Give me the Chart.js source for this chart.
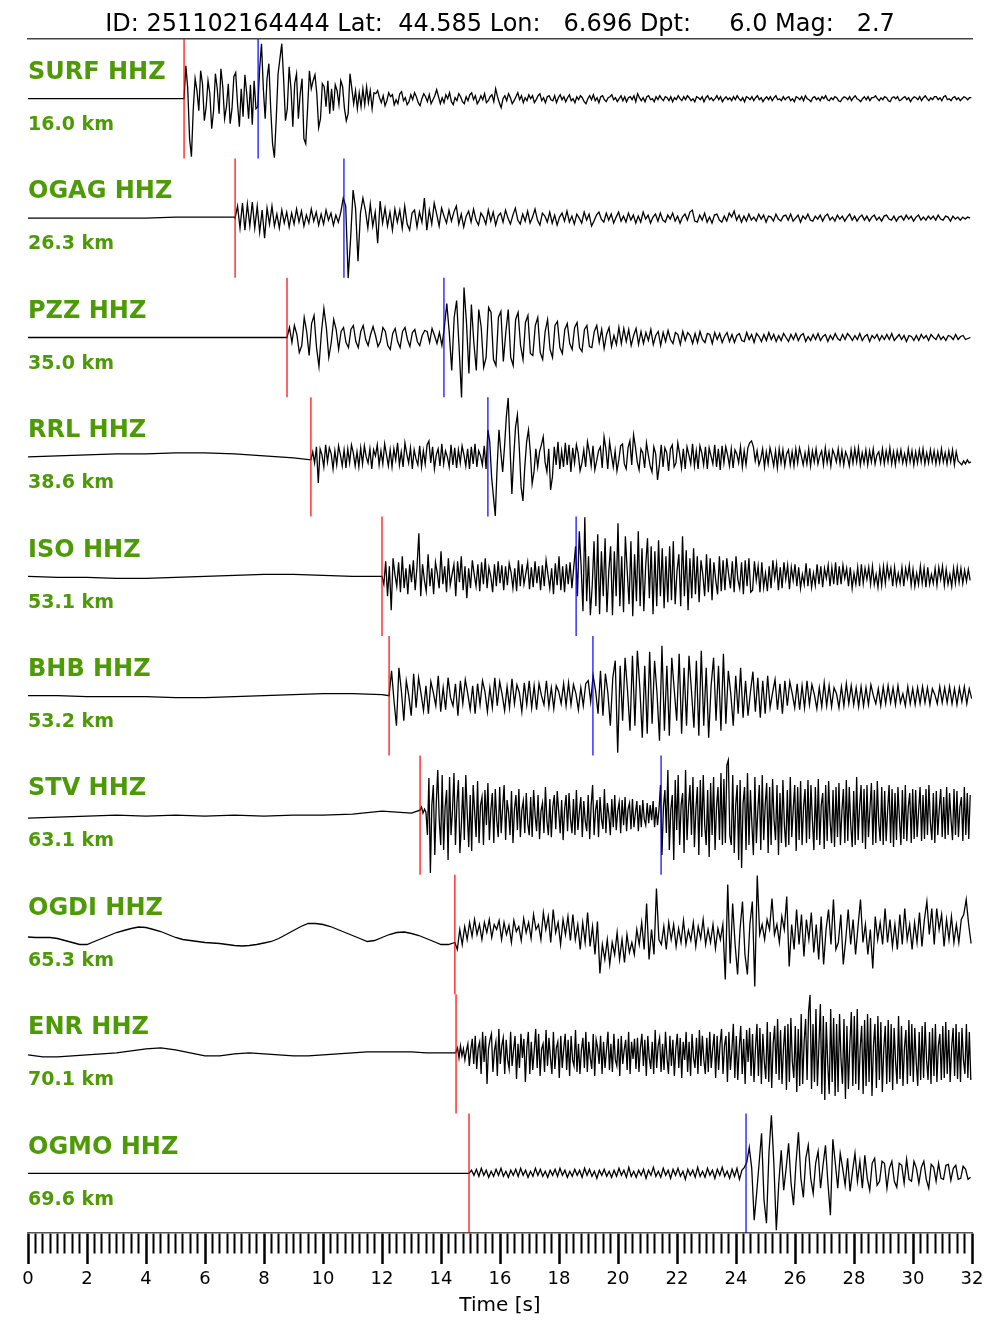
<!DOCTYPE html>
<html>
<head>
<meta charset="utf-8">
<title>Record section</title>
<script src="https://cdn.jsdelivr.net/npm/chart.js@4.4.1/dist/chart.umd.min.js"></script>
<style>
  html, body { margin: 0; padding: 0; background: #ffffff; }
  canvas { display: block; }
</style>
</head>
<body>
<canvas id="section" width="1000" height="1333"></canvas>
<script>
// Event header
const eventTitle = 'ID: 251102164444 Lat:  44.585 Lon:   6.696 Dpt:     6.0 Mag:   2.7';

// Stations, ordered by distance
const stations  = ['SURF HHZ', 'OGAG HHZ', 'PZZ HHZ', 'RRL HHZ', 'ISO HHZ', 'BHB HHZ', 'STV HHZ', 'OGDI HHZ', 'ENR HHZ', 'OGMO HHZ'];
const distances = ['16.0 km', '26.3 km', '35.0 km', '38.6 km', '53.1 km', '53.2 km', '63.1 km', '65.3 km', '70.1 km', '69.6 km'];

// Phase picks [s]
const pPicks = [5.29, 7.02, 8.78, 9.59, 12.00, 12.24, 13.29, 14.47, 14.51, 14.95];
const sPicks = [7.80, 10.71, 14.10, 15.59, 18.58, 19.15, 21.46, null, null, 24.34];

// Sampling rates [samples/s]: pre-event noise (from 0 s) and waveform (from the P pick)
const preRate = [1, 1, 1, 1, 1, 1, 1, 4, 2, 1];
const sigRate = [16, 12, 12, 16, 16, 12, 20, 12, 20, 12];

// Normalised amplitudes (counts; one trace band spans 119.4 counts)
const surfPre = [0, 0, 0, 0, 0, 0];
const surfWave = [
  0, 33, 10, -40, -58, -10, 20, 8, -12, 28, 15, -22, -8, 18, 5, -30,
  -12, 25, 10, -15, 30, 12, -20, -8, 15, -25, -10, 22, 26, -5, -28, 10,
  -18, 24, 5, -20, 14, -26, 18, -10,
  -8, 30, 55, 10, -20, 20, 35, -10, -45, -59, -20, 25, 40, 55, 20, -22,
  -10, 32, 10, -28, 15, 25, -20, 5, 20, -40, -45, -10, 28, 10, 18, 24,
  5, -29, -20, 15, 12, -8, 18, -15, 10, -12, 14, 8, -6, 18, 12, -10,
  -22, -15, 25, 10, -5, 8, -10, 6, -8, 10, -6, 12, -4, 8, -10, 6,
  5, 8, 1, -4, 3, -7, -2, 6, 2, 4, -6, -1, -5, 5, 7, -2,
  1, -6, -3, 4, -1, 6, 2, -4, -7, 0, 5, 2, -3, 4, -5, -1,
  3, 9, 2, -5, 1, -4, 4, 0, 6, -3, -6, 1, -2, 5, 2, -3,
  -5, 2, -2, 4, 6, -1, 3, -5, -2, 3, -1, 5, -4, -2, 2, 4,
  -3, 10, 2, -4, -9, 0, 3, -2, 5, 1, -5, -2, 2, 6, -1, 3,
  -4, 1, -2, 4, 0, 3, -4, -1, 3, 5, -2, 1, -4, 2, 3, -1,
  -2, 3, -4, 1, 4, -1, 2, -3, 1, 4, -2, 0, -4, 2, -1, 3,
  1, -3, -5, 0, 3, -1, 4, -2, 1, -4, 2, 3, -1, -3, 1, 2,
  4, -1, 1, -3, 0, 3, -2, 2, -3, 1, 2, -1, 3, -3, 5, 1,
  -2, 1, -3, 2, 3, -1, 0, -3, 2, -1, 3, 0, -2, 2, 1, -2,
  2, -3, 1, -1, 3, 0, -2, 2, -1, 3, 1, -2, 0, -3, 2, 1,
  -1, 2, -3, 1, 3, -1, 1, -2, 0, 3, -1, 2, -3, 0, 2, -1,
  1, -2, 2, -1, 3, 0, -2, 1, -3, 2, 1, -1, 2, -2, 1, 3,
  -1, 1, -3, 0, 2, -1, 2, -2, 1, 3, -1, 0, -2, 2, -1, 1,
  2, -2, 0, -3, 2, 1, -1, 2, -2, 3, 0, -1, -3, 1, 2, -1,
  1, -2, 2, 0, 3, -1, -2, 1, -1, 2, 1, -2, -3, 0, 2, 1,
  -1, 2, -2, 1, 3, 0, -1, -3, 0, 2, -1, 2, -2, 1, 1, 3,
  0, -2, 1, -1, 2, 1, -2, -3, 1, 2, 0, 2, -2, -1, 1, 2,
  -1, 1, -3, 0, 2, 1, -1, 2, -2, 1, 3, 0, -2, 1, -1, 2,
  2, -1, 1, -2, 2, 3, -1, 0, -2, 1, 2, -1, 1, -2, 0, 2,
  1, -1, 1, 1
];

const ogagPre = [0, 0, 0, 0, 0, 1, 1, 1];
const ogagWave = [
  0, 12, -10, 15, -12, 14, -8, 16, -10, 12, -14, 8,
  -20, 10, -6, 12, -8, 4, -10, 8, -5, 6, -9, 5,
  -6, 9, -4, 7, -8, 3, -5, 9, -3, 6, -7, 4,
  -6, 8, -2, 5, -7, 3, -4, 6,
  20, 12, -60, -20, 28, 10, -43, 5, 20, 8, -10, 14,
  -8, 6, -25, 17, -5, 10, -8, 6, -12, 9, -4, 8,
  -10, 12, -6, -12, 5, 8, -9, 6, -4, 20, -12, 8,
  -6, 15, 4, -8, 10, 2, -5, 8, -3, 6, 12, -6,
  4, -9, 2, 7, -4, 9, -2, -7, 5, 1, -6, 8,
  -3, 6, -7, 2, 5, -4, 8, 0, -6, 3, 10, -2,
  -6, 4, -3, 7, -5, 1, 9, -2, -7, 5, 2, -4,
  6, -5, 3, -7, 1, 5, -3, 7, -4, 2, -6, 4,
  0, -5, 6, -2, 4, -8, -3, 3, 6, -1, -4, 5,
  -2, 4, -5, 1, 6, -3, 2, -4, 5, -2, 3, -5,
  2, -4, 6, -1, 3, -5, 1, 4, -3, 5, -2, -4,
  3, -1, 5, -3, 2, -5, 1, 4, -2, 6, 8, -3,
  -4, 3, -2, 5, -4, 1, -5, 3, 4, -2, -4, 2,
  -3, 5, 1, 7, -2, 3, -4, 2, -3, 4, -2, 1,
  -3, 4, -1, 3, -4, 2, 1, -3, 4, -1, -3, 2,
  3, -2, 4, -3, 0, 3, -4, 2, -1, 4, -2, -3,
  2, -1, 3, -3, 2, 4, -2, 1, -3, 3, -1, 2,
  -3, 1, 4, -2, 2, -3, 1, 3, -2, 2, -3, 1,
  3, -2, 1, -3, 2, 3, -1, -2, 2, -3, 1, 2,
  -2, 3, -1, 2, -3, 1, 3, -2, 1, -2, 2, -1,
  2, -2, 3, -1, -2, 2, 1, -3, 2, -1, 1, -2,
  1, -1, 1, 0
];

const pzzPre = [0, 0, 0, 0, 0, 0, 0, 0, 0];
const pzzWave = [
  0, 10, -5, 12, 3, -15, -8, 20, 6, -18, 14, 22,
  -10, -29, 5, 29, 10, -20, -5, 18, 8, -12, 6, 10,
  -5, -10, 8, 12, -4, -10, 6, 12, -2, -8, 3, 11,
  2, -9, -4, 10, 6, -8, -12, 4, 9, -4, -10, 6,
  10, -2, -9, 5, 8, -4, -8, 2, 7, 6, -5, 9,
  2, -6, 5, -8,
  10, 34, 5, -33, 20, 37, -10, -60, 50, 15, -36, 33,
  -5, -33, 28, 10, -30, -20, 30, 25, -22, -28, 20, 26,
  -24, 5, 28, -20, -28, 18, 25, -8, -22, 15, 22, -16,
  -18, 12, 20, -15, -22, 6, 18, -12, -20, 12, 16, -10,
  -16, 8, 14, -6, -12, 10, 15, -10, -14, 8, 12, -9,
  -10, 6, 12, -5, 8, -11, 3, 10, -9, 2, -7, 10,
  -6, 9, -4, 8, -8, 2, 9, -7, 6, -6, 5, -3,
  8, -7, 2, 6, -8, 5, -4, 7, -2, -6, 5, 3,
  -7, 6, -3, 5, 2, -6, 4, -5, 6, -2, -5, 4,
  3, -6, 5, -2, 4, -5, 1, 5, -4, 3, -5, 2,
  4, -3, -4, 5, -2, 3, -5, 4, 1, -4, 3, -3,
  5, -2, 3, -4, 2, -3, 4, 0, -4, 3, -2, 4,
  -3, 2, 4, -4, 1, -3, 3, -2, 4, -3, 1, 3,
  -4, 2, -2, 4, -1, -3, 3, -2, 4, 1, -3, 2,
  -2, 4, -3, 1, 3, -4, 2, -1, 3, -3, 2, -2,
  3, -2, 4, -3, 0, 3, -2, 2, -4, 2, 1, -3,
  2, -3, 3, -1, 2, -3, 3, 0, -2, 3, -2, 1,
  -3, 2, 1, -2, 3, -2, 1, 2, -2, -1, 0
];

const rrlPre = [0, 1, 2, 3, 3, 4, 4, 3, 1, -1];
const rrlWave = [
  -3, 5, -6, 10, -26, 8, 2, -10, 12, -5, 9, 3, -12, 6, -8, 11,
  2, -9, 7, -11, 8, -6, 12, 4, -9, 5, -10, 9, -7, 11, 0, -6,
  8, -12, 7, 1, 12, -8, 6, -7, 13, 2, -9, 7, -10, 8, -3, 14,
  -8, 5, -10, 14, 3, -6, 9, -12, 7, -2, -8, 11, -10, 6, -7, 12,
  16, -6, 10, -12, 2, 8, -9, 13, -7, 6, 0, -10, 12, -8, 9, -11,
  7, -6, 11, 2, -9, 8, -12, 10, -7, 13, -10, 6, 1, -8, 11, -12,
  27, 15, -20, -40, -59, -10, 27, 5, -15, 10, 40, 59, 10, -37, 0, 30,
  42, 10, -30, -44, -10, 15, 27, 5, -27, -15, 8, -10, 5, 12, 20, -5,
  -15, 8, -33, -20, 10, -8, 15, -12, 6, -10, 14, -8, 12, -15, 9, -6,
  12, 3, -14, -6, 7, -10, 15, 5, -9, 11, -13, -4, 6, 10, -11, 20,
  8, -12, 15, 2, -10, 6, -14, -3, 11, 13, -7, -12, 9, 16, -8, 22,
  10, -5, -13, 8, 4, -11, 14, 2, -9, -15, 10, 3, -23, -8, 12, -10,
  9, 4, -14, 8, 12, -10, -6, 14, 3, -11, 8, -12, 10, 2, -7, 13,
  -9, 6, -12, 11, 4, -8, 10, -12, 9, 1, -7, 12, -10, 8, -13, 11,
  -6, 10, 2, -9, 8, -11, 7, 3, -6, 10, -10, 6, -8, 9, 14, 16,
  10, -4, 6, -8, -2, 8, -10, 5, -7, 9, 1, -9, 6, -11, 8, -6,
  7, -9, 3, 7, -8, 5, -9, 8, -6, 9, 1, -8, 4, -7, 8, -9,
  6, -5, 8, -7, 1, 6, -8, 9, -6, 5, -9, 7, 2, -5, 8, -7,
  6, -8, 5, 0, -9, 7, -6, 8, -5, 9, -8, 4, -6, 7, -8, 6,
  -5, 8, -7, 2, 5, -6, 8, -7, 6, -5, 9, -7, 5, -8, 6, -4,
  7, -6, 3, -7, 8, -5, 6, -8, 5, -6, 7, -5, 8, -7, 4, -6,
  7, -5, 6, -7, 5, -6, 8, -5, 4, -7, 6, -5, 7, -8, 5, -4,
  -6, -8, -4, -7, -3, -6, -5
];

const isoPre = [0, -1, -1, -2, -2, -1, 0, 1, 2, 2, 1, 0];
const isoWave = [
  0, -8, 15, -20, 10, -34, 18, 2, -10, 14, -16, 20, -12, 8, -18, 12,
  -6, 16, -14, 10, 43, -20, 12, -4, -15, 22, -10, 8, -18, 14, 3, -12,
  25, -8, 10, -16, 18, -9, 2, 12, -20, 15, -6, 20, -14, 10, -22, 8,
  -12, 16, 2, -10, 12, -15, 14, -8, 18, -12, 9, 0, -16, 12, -10, 15,
  -7, 11, -14, 10, -9, 13, 4, -12, 8, -15, 16, -10, 12, -8, 3, 14,
  -13, 9, -11, 15, -7, 10, -14, 11, -10, 16, 2, -12, 8, -18, 13, -9,
  20, -14, 10, -16, 12, -8, 14, -12, 9,
  30, -20, 45, 10, -35, 59, -25, 20, -39, -10, 35, -30, 42, -38, 25, -20,
  38, -36, 5, 30, -39, 25, -20, 53, -30, 20, -36, 40, 5, -28, 35, -40,
  22, -25, 45, -30, 28, -35, 10, 38, -22, 30, -38, 25, -30, 36, -20, 28,
  -32, 20, -26, 30, -24, 35, -28, 5, 22, -30, 40, -20, 26, -34, 18, -22,
  28, -18, 20, -26, 16, 2, -20, 22, -16, 18, -24, 14, -4, -18, 20, -15,
  16, -14, 18, 2, -12, 15, -16, 20, -3, -12, 14, -18, 16, -10, 18, -16,
  -14, 15, -4, 10, -16, 14, -11, 3, -15, 10, -12, 16, -2, 12, -14, 9,
  -12, 14, -3, 11, -13, 9, -4, 12, -10, 9, -12, 2, -8, 13, -10, 8,
  -11, 3, -9, 12, -8, 10, -11, 8, -2, 11, -10, 9, -8, 14, -9, 10,
  -8, 11, -2, 8, -10, 9, -12, 3, -8, 9, -10, 12, -7, 8, -3, 9,
  -8, 10, -8, 2, -11, 8, -9, 10, -7, 11, -2, 8, -10, 9, -8, 3,
  -7, 9, -10, 8, -2, 11, -9, 7, -10, 3, -8, 10, -7, 8, -11, 9,
  -8, 2, -7, 8, -9, 9, -3, 10, -9, 7, -8, 2, -10, 8, -7, 9,
  -6, 8, -7, 6, -5, 7, -4
];

const bhbPre = [0, 0, -1, -1, -1, -2, -2, -1, 0, 1, 2, 2, 1];
const bhbWave = [
  0, 25, -5, -30, 28, 5, -25, 15, 0, -20, 22, -12,
  18, 2, -15, 10, -18, 14, 3, -10, 20, -16, 8, -14,
  18, -2, -10, 12, -20, 15, -8, 16, 2, -14, 10, -18,
  12, -9, 15, 4, -16, 8, -12, 18, -10, 14, 1, -15,
  9, -12, 17, -8, 11, 3, -16, 13, -9, 15, -12, 10,
  -14, 12, 0, -9, 15, -11, 8, -13, 10, 4, -8, 12,
  -10, 13, -9, 11, 2, -14, 8, -10, 12, 15, -6,
  20, 5, -18, 25, -20, 22, 3, -30, 18, 35, -57, 30,
  -25, 38, 5, -35, 40, -30, 45, 8, -42, 30, -38, 44,
  -28, 35, 2, -45, 50, -35, 30, -40, 38, 6, -25, 42,
  -38, 28, -30, 40, 5, -32, 35, -40, 45, -30, 28, -42,
  10, 38, -25, 30, -35, 42, -28, 25, 2, -30, 20, -18,
  28, -22, 15, -20, 4, 24, -16, 18, -22, 15, -18, 20,
  -12, 3, 16, -14, 12, -18, 15, -10, 14, 2, -12, 12,
  -14, 10, -12, 15, -9, 11, 1, -13, 8, -11, 13, -10,
  10, -11, 8, 2, -12, 9, -10, 12, -8, 10, -9, 8,
  -11, 9, -10, 8, -9, 11, 0, -8, 7, -10, 9, -8,
  10, -7, 8, -9, 10, -7, 2, -10, 9, -8, 7, -9,
  8, -8, 9, -7, 8, -9, 7, 1, -8, 9, -7, 8,
  -7, 9, -8, 7, -9, 8, -6, 9, -8, 7, -3
];

const stvPre = [-3, -2, -1, 0, -1, 0, -1, 0, -1, 0, 0, 1, 4, 2];
const stvWave = [
  5, 8, 2, 6, 3, -20, 37, -58, 10, 30, -40, 12, 45, -5, -30, 40, -35, 8, 25, -45,
  38, -20, 5, 42, -30, 12, 35, -38, -10, 28, -25, 40, 2, -32, 20, -36, 30, 4, -22, 34,
  -28, 10, 18, -30, 25, -10, 32, -25, 5, 22, -28, 26, -5, -22, 28, -18, 8, 30, -25, 15,
  3, -20, 24, -28, 6, 20, -15, 26, -22, 5, 14, -18, 22, -8, -20, 18, -22, 25, 0, -16,
  20, -24, 4, 12, -18, 28, -6, -20, 16, -22, 8, 20, -14, 24, 4, -18, 15, -25, 6, 20,
  -16, 22, -4, -18, 16, -20, 25, -15, 3, 18, -22, 14, -6, -16, 20, -24, 10, 30, -20, 5,
  15, -22, 18, -4, -14, 26, -18, 12, 0, -20, 16, -12, 20, -15, 4, 13, -18, 15, -10, 18,
  -16, 6, 12, -14, 16, -12, 2, 14, -16, 10, -12, 15, -4, -10, 12, -8, 10, -5, 14, -12,
  8, -10, 6,
  30, -40, 8, 25, -18, 45, -35, 5, 20, -45, 35, -15, 40, -30, 10, 22, -38, 45, -25, 8,
  30, -20, 38, -32, 6, 28, -40, 35, -22, 40, -10, -30, 25, -42, 32, -20, 38, -35, 8, 28,
  -25, 42, -30, 36, -28, 50, 55, -20, -30, 40, -38, 10, 30, -45, 35, -53, 12, 28, -35, 42,
  -30, 25, -10, -40, 38, -28, 5, 30, -35, 40, -25, 10, 32, -38, 28, -30, 36, -5, -25, 30,
  -40, 22, -28, 35, -10, -32, 25, -30, 38, -22, 6, 30, -36, 28, -25, 34, -30, 8, 26, -28,
  35, -24, 30, -5, -35, 28, -25, 36, -30, 10, 22, -34, 30, -26, 34, -6, -28, 25, -32, 28,
  -22, 32, -30, 4, 26, -28, 35, -26, 28, -10, -32, 24, -30, 38, -25, 8, 30, -28, 26, -34,
  30, -22, 6, 32, -30, 25, -28, 34, -8, -26, 28, -30, 24, -26, 5, 30, -28, 26, -32, 22,
  -25, 28, -4, -30, 25, -24, 30, -26, 8, 22, -28, 26, -24, 25, -22, 4, 28, -26, 20, -24,
  26, -20, 30, -8, -25, 22, -28, 24, -20, 6, 26, -22, 18, -24, 28, -20, 22, -5, -25, 26,
  -20, 24, -22, 8, 18, -26, 28, -20, 22, -24, 20
];

const ogdiPre = [
  -2.5, -3, -3, -3,
  -4, -6, -8, -10,
  -10, -7, -4, -1,
  2, 4, 6, 7.5,
  7, 5, 3, 0,
  -3, -5, -6, -7,
  -8, -8.5, -9, -10,
  -11, -11.5, -11, -10,
  -8.5, -7, -4, 0,
  4, 8, 11, 11,
  10, 8, 5, 2,
  -1, -4, -7, -6,
  -3, 0, 2, 2.5,
  1, -1, -4, -7,
  -10, -10
];
const ogdiWave = [
  -8, -15, 5, -10, 8, -5, 12, -2, 15, 0, 10, -5,
  12, 2, 15, -3, 10, 5, 14, -5, 12, 0, 9, -8,
  14, 3, 8, -6, 16, 2, 12, -4, 20, 5, 10, -5,
  22, 5, 18, -8, 25, 2, 12, -10, 15, 0, 18, -6,
  20, -5, 10, -15, 12, -8, 22, -12, 8, -20, 13, -39,
  -10, -25, -5, -30, -8, -20, 2, -25, -5, -28, 0, -18,
  -8, -20, 5, -10, 12, -15, 31, -25, 5, -20, 46, -5,
  -10, 8, -15, 12, -5, 10, -12, 6, -8, 14, -10, 4,
  -6, 12, -12, 8, -4, 15, -10, 5, -8, 10, -14, 6,
  -5, 10, -45, 50, -29, 31, -10, -40, 5, 33, -20, -40,
  10, 33, -52, 59, 0, 10, -5, 15, 5, 36, 0, 10,
  -8, 18, 5, 38, -32, 10, -15, 25, -10, 20, -22, 15,
  -5, 22, -18, 10, -25, 18, -30, 5, 25, -10, 35, -15,
  -8, 20, -30, -5, 25, -10, 15, -20, 8, 35, -8, 10,
  -20, 5, -34, 18, -5, 12, -10, 26, -8, 15, -12, 10,
  -15, 20, -10, 26, -5, 10, -15, 12, -8, 22, -12, 15,
  33, 0, 26, -10, 26, 5, 20, -12, 15, -5, 18, -8,
  10, -8, 15, 20, 35, 10, -9
];

const enrPre = [-1, -3, -3, -2, -1, 0, 1, 3, 5, 6, 4, 1, -2, -2, 0, 1, 0, -1, -2, -2, -1, 0, 1, 2, 2, 2, 2, 1, 1, 1];
const enrWave = [
  2, 6, -4, 8, -2, 5, -6, 3, 10, -12, 4, 15, -10, 18, -15, 6, 12, -20, 22, -8,
  18, -30, 5, 14, 20, -18, 3, 12, -22, 25, -10, 8, 16, -20, 14, -6, -15, 22, -12, 4,
  18, -25, 10, -14, 20, -4, 15, -28, 6, 22, -20, 12, -16, 3, 25, -14, 20, -22, 5, 10,
  -18, 24, -12, 16, -4, -20, 22, -15, 6, 12, -24, 18, -14, 5, 20, -16, 14, -22, 18, -6,
  -12, 24, -18, 10, -20, 4, 16, -14, 22, -18, 12, -4, -15, 20, -22, 14, 6, -10, 18, -20,
  12, -14, 4, 22, -16, 10, -18, 20, -6, -12, 15, -22, 18, -10, 4, 14, -16, 22, -20, 12,
  -5, 15, -15, 16, -18, 6, 20, -12, 14, -22, 18, -4, -15, 12, -20, 24, -14, 8, 16, -18,
  10, -16, 22, -4, -20, 18, -12, 14, -22, 5, 20, -14, 16, -24, 12, -6, 22, -18, 12, -22,
  20, -4, -14, 16, -20, 24, -12, 18, -6, -20, 16, -18, 22, -14, 5, 20, -24, 18, -16, 10,
  25, -20, 8, 18, -28, 22, -16, 4, 30, -24, 18, -26, 6, 28, -20, 15, -30, 24, -8, 26,
  -22, 20, -28, 5, 30, -22, 26, -30, 20, -8, -25, 32, -28, 22, -34, 10, 28, -20, 35, -26,
  24, -30, 6, 28, -36, 30, -28, 36, -8, -24, 28, -38, 25, -32, 40, -30, 12, 35, -26, 42,
  59, -35, 30, -28, 45, -32, 8, 50, -40, 38, -46, 32, -10, -40, 45, -28, 36, -42, 30, -38,
  40, -6, -30, 35, -45, 28, -35, 10, 42, -32, 38, -30, 45, -36, 6, 28, -40, 34, -32, 40,
  -28, 36, -42, 8, 30, -34, 38, -26, 32, -38, 5, 28, -30, 34, -28, 30, -36, 26, -8, -30,
  38, -25, 28, -32, 6, 24, -30, 34, -22, 30, -28, 26, -8, -32, 22, -26, 28, -24, 32, -6,
  -26, 22, -30, 26, -22, 30, -28, 8, 20, -26, 28, -24, 32, -20, 24, -28, 6, 26, -22, 30,
  -25, 22, -28, 26, -6, -20, 30, -24, 22, -26
];

const ogmoPre = [0, 0, 0, 0, 0, 0, 0, 0, 0, 0, 0, 0, 0, 0, 0];
const ogmoWave = [
  0, 3, -2, 4, -3, 5, -2, 3, -4, 2, -3, 4,
  -2, 5, -3, 2, -4, 3, -2, 4, -3, 5, -2, 3,
  -4, 2, -3, 5, -2, 4, -3, 2, -4, 3, -2, 4,
  -3, 5, -2, 3, -4, 2, -3, 4, -2, 3, -4, 5,
  -2, 4, -3, 2, -5, 3, -2, 4, -3, 2, -4, 3,
  -3, 5, -2, 3, -4, 6, -3, 2, -4, 3, -2, 4,
  -5, 3, -2, 6, -3, 2, -4, 5, -2, 3, -5, 4,
  -2, 5, -3, 2, -6, 4, -2, 3, -4, 6, -3, 2,
  -4, 5, -2, 3, -5, 4, -2, 6, -3, 2, -5, 4,
  -3, 5, -6, 3, 6,
  11, 26, 5, -47, -20, 10, 40, -27, -50, 20, 58, 10,
  -57, -10, 23, -17, 5, 30, -10, -32, 10, 41, -5, -24,
  15, 28, -5, -20, 10, 22, -15, 8, 28, -10, -42, 34,
  10, -15, 20, 5, -12, 15, -18, 2, 20, -8, 12, -15,
  18, -5, -17, 10, 15, -12, -8, 12, 10, -15, 5, 12,
  -8, -14, 10, 8, -10, 14, -6, -8, 12, 5, -10, 6,
  12, -6, -15, 9, 6, -8, 10, -5, -6, 8, 9, -7,
  5, 8, -6, -5, 7, 4, -6, -4
];

const preTraces = [surfPre, ogagPre, pzzPre, rrlPre, isoPre, bhbPre, stvPre, ogdiPre, enrPre, ogmoPre];
const waveTraces = [surfWave, ogagWave, pzzWave, rrlWave, isoWave, bhbWave, stvWave, ogdiWave, enrWave, ogmoWave];

// Axis: time [s]
const timeMin = 0;
const timeMax = 32;
const minorStep = 0.25;
const majorStep = 2;

const COUNTS_PER_BAND = 119.4;
const LABEL_GREEN = '#4e9a06';
const FONT = '"DejaVu Sans", "Liberation Sans", sans-serif';

const nBands = stations.length;

// Seismogram traces, each offset to its own band on the y axis
const traceSets = stations.map((name, i) => {
  const mid = nBands - 0.5 - i;
  const pts = [];
  preTraces[i].forEach((v, k) => pts.push({ x: k / preRate[i], y: mid + v / COUNTS_PER_BAND }));
  waveTraces[i].forEach((v, k) => pts.push({ x: pPicks[i] + k / sigRate[i], y: mid + v / COUNTS_PER_BAND }));
  return {
    label: name,
    data: pts,
    borderColor: '#000000',
    borderWidth: 1.3,
    pointRadius: 0,
    tension: 0,
    fill: false,
    order: 2
  };
});

// Phase pick markers spanning each band
function pickSet(times, color) {
  const sets = [];
  times.forEach((t, i) => {
    if (t === null) return;
    sets.push({
      label: stations[i] + ' pick',
      data: [{ x: t, y: nBands - i }, { x: t, y: nBands - 1 - i }],
      borderColor: color,
      borderWidth: 1.2,
      pointRadius: 0,
      fill: false,
      order: 1
    });
  });
  return sets;
}

const stationLabels = {
  id: 'stationLabels',
  afterDraw(chart) {
    const { ctx, chartArea, scales } = chart;
    const y = scales.y;
    ctx.save();
    ctx.textBaseline = 'alphabetic';
    ctx.fillStyle = '#000000';
    ctx.textAlign = 'center';
    ctx.font = '24px ' + FONT;
    ctx.fillText(eventTitle, (chartArea.left + chartArea.right) / 2, 31);
    ctx.textAlign = 'left';
    ctx.fillStyle = LABEL_GREEN;
    stations.forEach((s, i) => {
      const top = y.getPixelForValue(nBands - i);
      ctx.font = 'bold 24px ' + FONT;
      ctx.fillText(s, chartArea.left, top + 40);
      ctx.font = 'bold 19px ' + FONT;
      ctx.fillText(distances[i], chartArea.left, top + 91);
    });
    ctx.restore();
  }
};

const isMajor = (v) => Math.abs(v / majorStep - Math.round(v / majorStep)) < 1e-6;

new Chart(document.getElementById('section'), {
  type: 'line',
  data: {
    datasets: [
      ...pickSet(pPicks, '#ff0000'),
      ...pickSet(sPicks, '#0000ff'),
      ...traceSets
    ]
  },
  options: {
    responsive: false,
    animation: false,
    events: [],
    normalized: true,
    layout: { padding: { left: 28, right: 28, top: 39, bottom: 0 } },
    plugins: {
      legend: { display: false },
      tooltip: { enabled: false },
      title: { display: false }
    },
    scales: {
      x: {
        type: 'linear',
        position: 'bottom',
        min: timeMin,
        max: timeMax,
        afterFit(scale) { scale.height = 100; },
        border: { display: true, color: '#555555', width: 1.5 },
        grid: {
          drawOnChartArea: false,
          drawTicks: true,
          tickLength: 31,
          tickColor: '#000000',
          tickWidth: (c) => (c.tick && isMajor(c.tick.value) ? 2.5 : 2),
          tickBorderDash: (c) => (c.tick && isMajor(c.tick.value) ? [] : [20, 60])
        },
        ticks: {
          stepSize: minorStep,
          autoSkip: false,
          maxRotation: 0,
          padding: 5,
          color: '#000000',
          font: { family: FONT, size: 18 },
          callback: (v) => (isMajor(v) ? String(Math.round(v)) : '')
        },
        title: {
          display: true,
          text: 'Time [s]',
          color: '#000000',
          font: { family: FONT, size: 20 },
          padding: { top: 0, bottom: 15 }
        }
      },
      xTop: {
        type: 'linear',
        position: 'top',
        min: timeMin,
        max: timeMax,
        afterFit(scale) { scale.height = 0; },
        border: { display: true, color: '#444444', width: 1.5 },
        grid: { display: false },
        ticks: { display: false }
      },
      y: {
        type: 'linear',
        min: 0,
        max: nBands,
        display: false
      }
    }
  },
  plugins: [stationLabels]
});
</script>
</body>
</html>
